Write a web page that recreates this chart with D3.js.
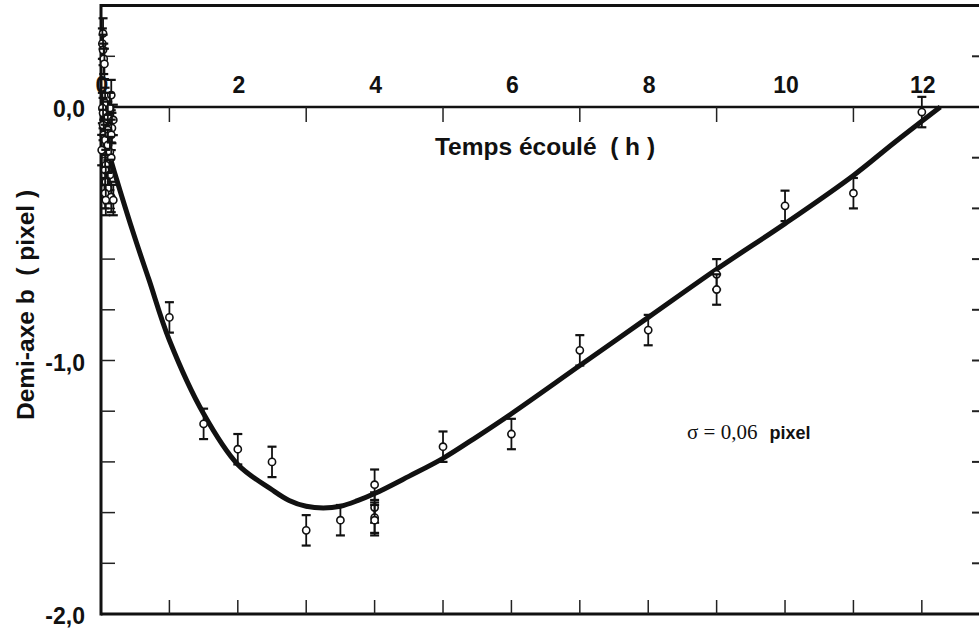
<!DOCTYPE html>
<html lang="fr">
<head>
  <meta charset="UTF-8">
  <title>Demi-axe b en fonction du temps</title>
  <script src="https://d3js.org/d3.v7.min.js"></script>
  <style>
    body { margin: 0; background: #fff; }
    svg { display: block; }
    text { font-family: "Liberation Sans", Arial, sans-serif; font-weight: bold; fill: #111; white-space: pre; }
  </style>
</head>
<body>
  <div id="chart"></div>

  <script>
    // mesures du début (paquet serré près de t = 0)
    const debutT = [0.03, 0.02, 0.03, 0.04, 0.05, 0.15, 0.06, 0.02, 0.13, 0.03, 0.10, 0.18,
                    0.03, 0.16, 0.10, 0.04, 0.15, 0.06, 0.10, 0.01, 0.13, 0.15, 0.07, 0.06,
                    0.13, 0.07, 0.10, 0.06, 0.15, 0.07, 0.18];
    const debutB = [0.29, 0.25, 0.225, 0.19, 0.17, 0.047, 0.016, -0.004, -0.004, -0.024, -0.039, -0.051,
                    -0.071, -0.083, -0.091, -0.11, -0.11, -0.13, -0.15, -0.17, -0.178, -0.20, -0.229, -0.249,
                    -0.268, -0.296, -0.32, -0.34, -0.355, -0.367, -0.367];

    // mesures suivantes
    const mesT = [1, 1.5, 2, 2.5, 3, 3.5, 4, 4, 4, 4, 5, 6, 7, 8, 9, 9, 10, 11, 12];
    const mesB = [-0.83, -1.25, -1.35, -1.40, -1.67, -1.63, -1.49, -1.58, -1.62, -1.63,
                  -1.34, -1.29, -0.96, -0.88, -0.66, -0.72, -0.39, -0.34, -0.02];
    const erreur = 0.06;

    // courbe ajustée
    const fitT = [0.05, 0.2, 0.5, 0.7, 1.0, 1.5, 2.0, 2.5, 2.75, 3.0, 3.25, 3.5, 3.75, 4.0, 4.5, 5.0, 5.5,
                  6, 7, 8, 9, 10, 11, 11.6, 12.27];
    const fitB = [-0.12, -0.26, -0.52, -0.68, -0.92, -1.21, -1.41, -1.51, -1.552, -1.575, -1.582, -1.575,
                  -1.553, -1.525, -1.457, -1.386, -1.30, -1.21, -1.02, -0.83, -0.64, -0.46, -0.27, -0.14, 0.0];

    const xLabels = [0, 2, 4, 6, 8, 10, 12];
    const xTicksZero = [1, 3, 5, 7, 9, 11];
    const xTicksBas = [1, 2, 3, 4, 5, 6, 7, 8, 9, 10, 11, 12];
    const yLabels = [0, -1, -2];
    const yTicks = [0.2, -0.2, -0.4, -0.6, -0.8, -1.0, -1.2, -1.4, -1.6, -1.8];

    const width = 979, height = 630;
    const svg = d3.select("#chart").append("svg")
      .attr("width", width).attr("height", height);

    const x = d3.scaleLinear().domain([0, 12.865]).range([101, 981]);
    const y = d3.scaleLinear().domain([-2, 0.4]).range([614, 5.6]);

    const fmt = v => d3.format(".1f")(v).replace(".", ",").replace("−", "-");

    // cadre
    svg.append("line").attr("x1", x(0)).attr("x2", width).attr("y1", y(0.4)).attr("y2", y(0.4))
      .attr("stroke", "#111").attr("stroke-width", 3);
    svg.append("line").attr("x1", x(0)).attr("x2", width).attr("y1", y(-2)).attr("y2", y(-2))
      .attr("stroke", "#111").attr("stroke-width", 3);
    svg.append("line").attr("x1", x(0)).attr("x2", x(0)).attr("y1", y(0.4) - 1.5).attr("y2", y(-2) + 1.5)
      .attr("stroke", "#111").attr("stroke-width", 3);
    svg.append("line").attr("x1", x(0)).attr("x2", width).attr("y1", y(0)).attr("y2", y(0))
      .attr("stroke", "#111").attr("stroke-width", 2.5);

    // graduations
    svg.append("g").selectAll("line").data(xTicksZero).join("line")
      .attr("x1", d => x(d)).attr("x2", d => x(d)).attr("y1", y(0)).attr("y2", y(0) + 15)
      .attr("stroke", "#222").attr("stroke-width", 1.5);
    svg.append("g").selectAll("line").data(xTicksBas).join("line")
      .attr("x1", d => x(d)).attr("x2", d => x(d)).attr("y1", y(-2)).attr("y2", y(-2) - 14)
      .attr("stroke", "#222").attr("stroke-width", 1.5);
    svg.append("g").selectAll("line").data(yTicks).join("line")
      .attr("x1", x(0)).attr("x2", x(0) + 14).attr("y1", d => y(d)).attr("y2", d => y(d))
      .attr("stroke", "#222").attr("stroke-width", 1.5);
    svg.append("g").selectAll("line").data(yTicks).join("line")
      .attr("x1", width - 7).attr("x2", width).attr("y1", d => y(d)).attr("y2", d => y(d))
      .attr("stroke", "#222").attr("stroke-width", 2);

    // étiquettes
    svg.append("g").selectAll("text").data(xLabels).join("text")
      .attr("x", d => x(d) + 1).attr("y", y(0) - 14)
      .attr("text-anchor", "middle").style("font-size", "23px")
      .text(d => d);
    svg.append("g").selectAll("text").data(yLabels).join("text")
      .attr("x", 85).attr("y", d => y(d) + 2).attr("dy", "0.35em")
      .attr("text-anchor", "end").style("font-size", "23px")
      .text(d => fmt(d));

    svg.append("text").attr("x", 545).attr("y", 155).attr("text-anchor", "middle")
      .style("font-size", "24.5px").text("Temps écoulé  ( h )");
    svg.append("text").attr("transform", "translate(34,305) rotate(-90)").attr("text-anchor", "middle")
      .style("font-size", "24.5px").text("Demi-axe b  ( pixel )");

    const sig = svg.append("text").attr("x", 687).attr("y", 439).style("font-size", "18px");
    sig.append("tspan").style("font-family", "'Liberation Serif', 'Times New Roman', serif")
      .style("font-weight", "normal").style("font-size", "21px").text("σ = 0,06");
    sig.append("tspan").attr("dx", 12).text("pixel");

    // courbe
    const line = d3.line().x(d => x(d[0])).y(d => y(d[1])).curve(d3.curveCatmullRom);
    svg.append("path").datum(d3.zip(fitT, fitB))
      .attr("d", line).attr("fill", "none").attr("stroke", "#111").attr("stroke-width", 5);

    // points avec barres d'erreur
    const pts = d3.zip(debutT.concat(mesT), debutB.concat(mesB));
    const g = svg.append("g").selectAll("g").data(pts).join("g");
    g.append("line")
      .attr("x1", d => x(d[0])).attr("x2", d => x(d[0]))
      .attr("y1", d => y(d[1] + erreur)).attr("y2", d => y(d[1] - erreur))
      .attr("stroke", "#111").attr("stroke-width", 1.8);
    g.append("line")
      .attr("x1", d => x(d[0]) - 4.5).attr("x2", d => x(d[0]) + 4.5)
      .attr("y1", d => y(d[1] + erreur)).attr("y2", d => y(d[1] + erreur))
      .attr("stroke", "#111").attr("stroke-width", 2.2);
    g.append("line")
      .attr("x1", d => x(d[0]) - 4.5).attr("x2", d => x(d[0]) + 4.5)
      .attr("y1", d => y(d[1] - erreur)).attr("y2", d => y(d[1] - erreur))
      .attr("stroke", "#111").attr("stroke-width", 2.2);
    g.append("circle")
      .attr("cx", d => x(d[0])).attr("cy", d => y(d[1])).attr("r", 3.6)
      .attr("fill", "#fff").attr("stroke", "#111").attr("stroke-width", 1.6);
  </script>
</body>
</html>
